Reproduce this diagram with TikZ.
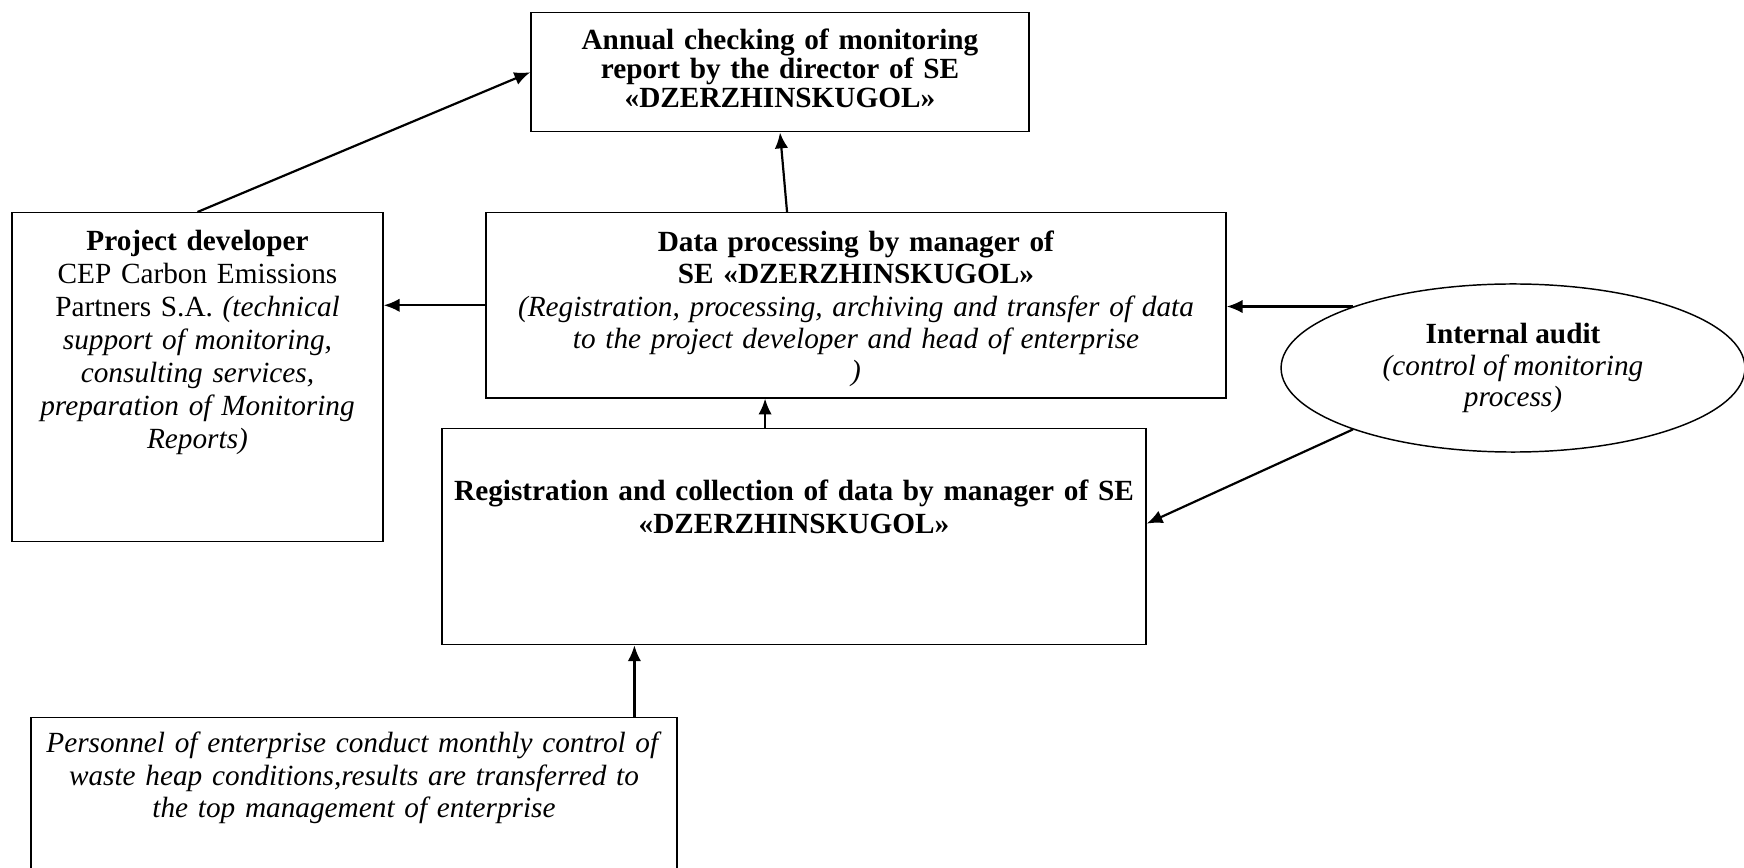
\documentclass[tikz,border=0pt]{standalone}
\usepackage{fontspec}
\setmainfont{Liberation Serif}
\usetikzlibrary{arrows.meta,shapes.geometric,calc}

\begin{document}
\begin{tikzpicture}[
        x=0.41pt, y=-0.41pt,
        rect/.style={rectangle, draw, line width=0.6pt, anchor=north, align=center, inner xsep=4pt, inner ysep=0pt, text height=16pt, font=\fontsize{12}{13.5}\selectfont},
        oval/.style={ellipse, draw, line width=0.6pt, inner sep=0pt, align=center, font=\fontsize{12}{13.1}\selectfont},
        arr/.style={-{Latex[length=6.5pt,width=5.5pt]}, line width=0.9pt}
    ]
    \useasboundingbox (0,0) rectangle (1744,868);
    \clip (0,0) rectangle (1744,868);
    % boxes
    \node[rect, text width=196.2pt, text height=15.2pt, text depth=33.6pt, font=\fontsize{12}{11.9}\selectfont] (check) at (780,12) {
        \textbf{Annual checking of monitoring}\\
        \textbf{report by the director of SE}\\
        \textbf{«DZERZHINSKUGOL»}
    };
    \node[rect, text width=144.1pt, text height=15.6pt, text depth=119.3pt] (dev) at (197.5,212) {
        \textbf{Project developer}\\
        CEP Carbon Emissions\\
        Partners S.A. \textit{(technical}\\
        \textit{support of monitoring,}\\
        \textit{consulting services,}\\
        \textit{preparation of Monitoring}\\
        \textit{Reports)}
    };
    \node[rect, text width=295.4pt, text depth=59.9pt, font=\fontsize{12}{13.2}\selectfont] (proc) at (856,212) {
        \textbf{Data processing by manager of}\\
        \textbf{SE «DZERZHINSKUGOL»}\\
        \textit{(Registration, processing, archiving and transfer of data}\\
        \textit{to the project developer and head of enterprise}\\
        \textit{)}
    };
    \node[oval, minimum width=190.2pt, minimum height=68.9pt] (audit) at (1513,368) {
        \textbf{Internal audit}\\
        \textit{(control of monitoring}\\
        \textit{process)}
    };
    \node[rect, text width=280.6pt, text height=29.5pt, text depth=59pt] (reg) at (794,428) {
        \textbf{Registration and collection of data by manager of SE}\\
        \textbf{«DZERZHINSKUGOL»}
    };
    \node[rect, text width=256.9pt, text height=14.4pt, text depth=67.7pt, font=\fontsize{12}{13.3}\selectfont] (staff) at (354,717) {
        \textit{Personnel of enterprise conduct monthly control of}\\
        \textit{waste heap conditions,results are transferred to}\\
        \textit{the top management of enterprise}
    };
    % connectors
    \draw[arr] (dev.north) -- (check.west);
    \draw[arr] ($(proc.north west)!0.407!(proc.north east)$) -- (check.south);
    \draw[arr] (proc.west) -- (proc.west -| dev.east);
    \draw[arr] (audit.159) -- (audit.159 -| proc.east);
    \draw[arr] (audit.201) -- ($(reg.north east)!0.44!(reg.south east)$);
    \draw[arr] ($(reg.north west)!0.459!(reg.north east)$) coordinate (regup) -- (regup |- proc.south);
    \draw[arr] ($(staff.north west)!0.933!(staff.north east)$) coordinate (staffup) -- (staffup |- reg.south);
\end{tikzpicture}
\end{document}
